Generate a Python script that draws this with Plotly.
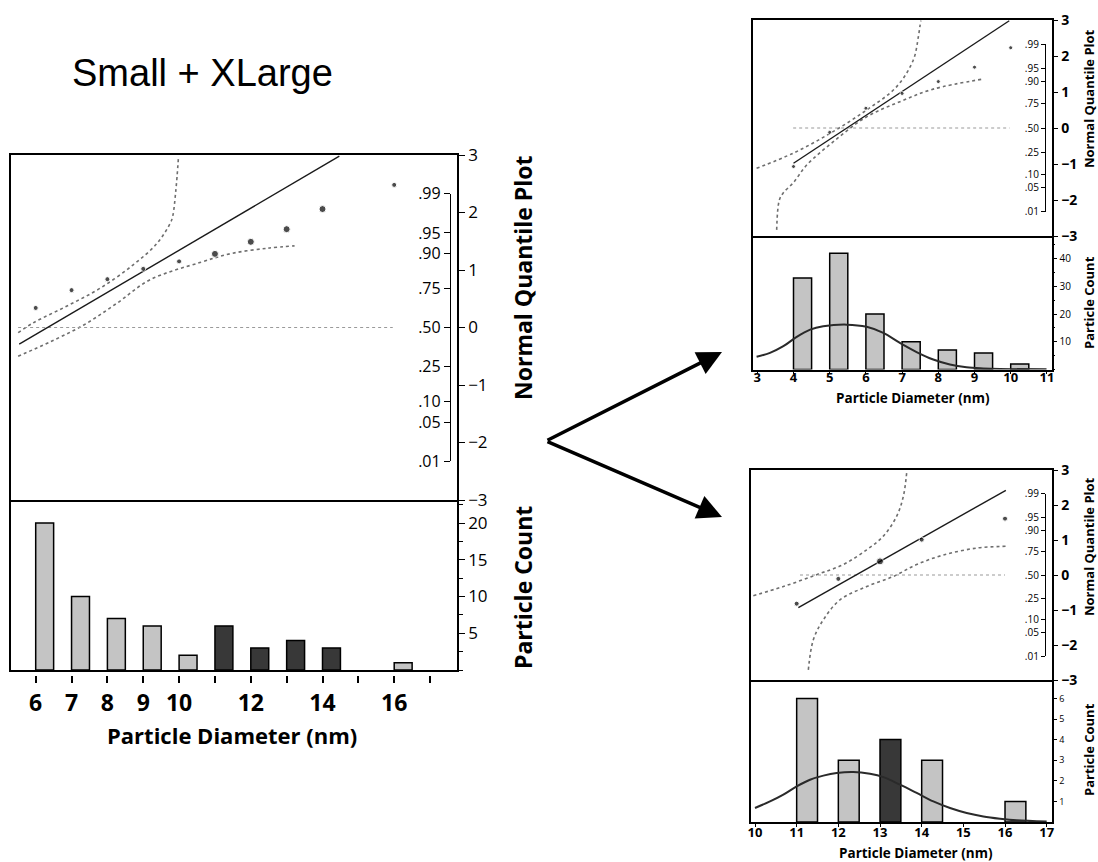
import plotly.graph_objects as go

W, H = 1098, 862


def fx(px):
    return px / W


def fy(py):
    return 1 - py / H


# ------------------------------------------------------------------ data
# Left panel: Small + XLarge
LEFT_BINS = [6, 7, 8, 9, 10, 11, 12, 13, 14, 16]
LEFT_COUNTS = [20, 10, 7, 6, 2, 6, 3, 4, 3, 1]
LEFT_SHADE = ["light", "light", "light", "light", "light", "dark", "dark", "dark", "dark", "light"]
LEFT_Q_X = [6, 7, 8, 9, 10, 11, 12, 13, 14, 16]
LEFT_Q_Z = [0.34, 0.65, 0.84, 1.02, 1.15, 1.28, 1.49, 1.71, 2.06, 2.48]
LEFT_FIT_X = [5.54, 14.47]
LEFT_FIT_Z = [-0.29, 2.98]
LEFT_UP_X = [5.51, 5.93, 6.86, 7.79, 8.72, 9.38, 9.75, 9.82, 9.91, 9.98]
LEFT_UP_Z = [-0.09, 0.08, 0.37, 0.68, 1.09, 1.46, 1.81, 1.93, 2.39, 2.94]
LEFT_LO_X = [5.51, 6.40, 7.33, 8.26, 9.19, 10.58, 11.48, 12.48, 13.22]
LEFT_LO_Z = [-0.50, -0.25, 0.04, 0.42, 0.83, 1.13, 1.29, 1.38, 1.42]
LEFT_MID_X = [5.51, 15.96]
LEFT_XTICKS = [6, 7, 8, 9, 10, 11, 12, 13, 14, 15, 16, 17]
LEFT_XLABELS = ["6", "7", "8", "9", "10", "", "12", "", "14", "", "16", ""]
LEFT_CTICKS = [5, 10, 15, 20]

# Top right panel: Small
R1_BINS = [4, 5, 6, 7, 8, 9, 10]
R1_COUNTS = [33, 42, 20, 10, 7, 6, 2]
R1_SHADE = ["light"] * 7
R1_Q_X = [4, 5, 6, 7, 8, 9, 10]
R1_Q_Z = [-1.07, -0.12, 0.55, 0.96, 1.29, 1.69, 2.23]
R1_FIT_X = [4.0, 9.96]
R1_FIT_Z = [-0.98, 2.98]
R1_UP_X = [2.98, 3.99, 5.01, 6.02, 6.85, 7.31, 7.45, 7.49, 7.52]
R1_UP_Z = [-1.12, -0.70, -0.15, 0.50, 1.15, 1.89, 2.54, 2.81, 2.98]
R1_LO_X = [3.535, 3.609, 3.719, 3.995, 4.364, 5.10, 6.02, 6.94, 7.86, 9.24]
R1_LO_Z = [-2.83, -2.0, -1.80, -1.52, -1.03, -0.38, 0.31, 0.73, 1.08, 1.36]
R1_MID_X = [3.99, 9.97]
R1_CURVE_X = [2.98, 3.35, 3.72, 4.09, 4.46, 4.82, 5.47, 6.02, 6.48, 6.94, 7.40, 7.86, 8.32, 8.78, 9.24, 9.70, 10.99]
R1_CURVE_Y = [4.6, 6.0, 8.4, 11.8, 14.4, 15.6, 16.2, 15.4, 13.2, 9.6, 6.3, 3.6, 1.8, 0.8, 0.4, 0.2, 0.1]
R1_XTICKS = [3, 4, 5, 6, 7, 8, 9, 10, 11]
R1_CTICKS = [10, 20, 30, 40]

# Bottom right panel: XLarge
R2_BINS = [11, 12, 13, 14, 16]
R2_COUNTS = [6, 3, 4, 3, 1]
R2_SHADE = ["light", "light", "dark", "light", "light"]
R2_Q_X = [11, 12, 13, 14, 16]
R2_Q_Z = [-0.82, -0.11, 0.39, 1.01, 1.61]
R2_FIT_X = [11.04, 16.02]
R2_FIT_Z = [-0.93, 2.42]
R2_UP_X = [9.96, 10.68, 11.48, 12.12, 12.68, 13.08, 13.40, 13.56, 13.64]
R2_UP_Z = [-0.59, -0.33, 0.01, 0.30, 0.72, 1.11, 1.68, 2.25, 2.92]
R2_LO_X = [11.28, 11.40, 11.64, 12.04, 12.68, 13.32, 13.88, 14.52, 15.32, 16.04]
R2_LO_Z = [-2.71, -1.85, -1.28, -0.71, -0.33, -0.04, 0.30, 0.57, 0.77, 0.82]
R2_MID_X = [11.08, 16.0]
R2_CURVE_X = [10.0, 10.36, 10.68, 11.0, 11.32, 11.64, 11.96, 12.36, 12.76, 13.08, 13.48, 13.88, 14.28, 14.68, 15.08, 15.48, 15.88, 16.28, 17.0]
R2_CURVE_Y = [0.68, 1.0, 1.33, 1.73, 2.05, 2.25, 2.38, 2.43, 2.34, 2.18, 1.81, 1.41, 1.0, 0.68, 0.44, 0.27, 0.16, 0.08, 0.02]
R2_XTICKS = [10, 11, 12, 13, 14, 15, 16, 17]
R2_CTICKS = [1, 2, 3, 4, 5, 6]

# shared axis labels
Z_TICKS = [-3, -2, -1, 0, 1, 2, 3]
Z_LABELS = ["\u22123", "\u22122", "\u22121", "0", "1", "2", "3"]
P_TICKS = [-2.326, -1.645, -1.282, -0.674, 0, 0.674, 1.282, 1.645, 2.326]
P_LABELS = [".01", ".05", ".10", ".25", ".50", ".75", ".90", ".95", ".99"]

TITLE = "Small + XLarge"
XTITLE = "Particle Diameter (nm)"
QTITLE = "Normal Quantile Plot"
CTITLE = "Particle Count"

# ------------------------------------------------------------------ style
FONT = "Open Sans"
LIGHT = "#c4c4c4"
DARK = "#383838"
BAND = "#6e6e6e"

fig = go.Figure()
layout = dict(
    width=W, height=H, margin=dict(l=0, r=0, t=0, b=0, pad=0, autoexpand=False),
    paper_bgcolor="white", plot_bgcolor="rgba(0,0,0,0)",
    showlegend=False, annotations=[],
)

base_axis = dict(showgrid=False, zeroline=False, linecolor="black", linewidth=1.5,
                 tickcolor="black", tickwidth=1.3, fixedrange=True, automargin=False)


def ax_name(kind, n):
    return kind + ("" if n == 1 else str(n))


def panel(ids, g, d, big):
    """ids: dict of axis numbers; g: pixel geometry; d: data."""
    xq, yz, yp, xh, yc, xt = ids["xq"], ids["yz"], ids["yp"], ids["xh"], ids["yc"], ids["xt"]
    xr = [d["x0"] + (g["left"] - g["x0px"]) / g["xscale"],
          d["x0"] + (g["right"] - g["x0px"]) / g["xscale"]]
    zpx = (g["sep"] - g["ztop"]) / 6.0
    zmid = (g["sep"] + g["ztop"]) / 2.0
    xdom = [fx(g["left"]), fx(g["right"])]
    cmax = (g["bottom"] - g["sep"]) / g["cscale"]

    zfont = dict(family=FONT, size=g["zfs"], color="black")
    if not big:
        zfont["weight"] = "bold"

    # quantile x axis (box top & separator)
    layout[ax_name("xaxis", xq)] = dict(
        base_axis, domain=xdom, range=xr, anchor=ax_name("y", yz),
        showline=True, mirror=True, ticks="", showticklabels=False)
    # z axis (right)
    layout[ax_name("yaxis", yz)] = dict(
        base_axis, domain=[fy(g["sep"]), fy(g["ztop"])], range=[-3, 3],
        anchor=ax_name("x", xq), side="right", showline=True, mirror=True,
        ticks="outside", ticklen=g["ztl"], tickvals=Z_TICKS, ticktext=Z_LABELS,
        tickfont=zfont)
    # probability bracket axis
    pmax = 2.326
    layout[ax_name("yaxis", yp)] = dict(
        base_axis, domain=[fy(zmid + pmax * zpx), fy(zmid - pmax * zpx)],
        range=[-pmax, pmax], anchor="free", position=fx(g["bracket"]),
        side="left", showline=True, linewidth=1.3, ticks="outside", ticklen=g["ptl"],
        tickvals=P_TICKS, ticktext=P_LABELS,
        tickfont=dict(family=FONT, size=g["pfs"], color="black"))
    fig.add_trace(go.Scatter(x=[None], y=[None], xaxis=ax_name("x", xq),
                             yaxis=ax_name("y", yp), hoverinfo="skip"))

    # histogram x axis (line + tick marks for small panels)
    hx = dict(base_axis, domain=xdom, range=xr, anchor=ax_name("y", yc),
              showline=True, mirror=False, showticklabels=False)
    if big:
        hx.update(ticks="")
    else:
        hx.update(ticks="outside", ticklen=3, tickvals=d["xticks"])
    layout[ax_name("xaxis", xh)] = hx
    # count axis
    yc_ax = dict(base_axis, domain=[fy(g["bottom"]), fy(g["sep"])], range=[0, cmax],
                 anchor=ax_name("x", xh), side="right", showline=True, mirror=True,
                 ticks="outside", ticklen=g["ctl"], tickvals=d["cticks"],
                 tickfont=dict(family=FONT, size=g["cfs"], color="black"))
    if d.get("cminor"):
        yc_ax["minor"] = dict(ticks="outside", ticklen=max(2, g["ctl"] - 2),
                              dtick=d["cminor"], tick0=0, tickcolor="black", tickwidth=1)
    layout[ax_name("yaxis", yc)] = yc_ax

    # tick-label axis (free, overlaying the histogram x axis)
    lab = dict(base_axis, range=xr, overlaying=ax_name("x", xh), anchor="free",
               position=fy(g["lblpos"]), side="bottom", showline=False,
               tickvals=d["xticks"], ticktext=d.get("xlabels", [str(v) for v in d["xticks"]]),
               tickfont=dict(family=FONT, size=g["xfs"], color="black", weight="bold"))
    if big:
        lab.update(ticks="outside", ticklen=7, tickwidth=2)
    else:
        lab.update(ticks="")
    layout[ax_name("xaxis", xt)] = lab
    fig.add_trace(go.Scatter(x=[None], y=[None], xaxis=ax_name("x", xt),
                             yaxis=ax_name("y", yc), hoverinfo="skip"))

    xq_ref, yz_ref = ax_name("x", xq), ax_name("y", yz)
    xh_ref, yc_ref = ax_name("x", xh), ax_name("y", yc)

    # bands and reference line
    for xs, zs in ((d["up_x"], d["up_z"]), (d["lo_x"], d["lo_z"])):
        fig.add_trace(go.Scatter(x=xs, y=zs, mode="lines", line_shape="spline",
                                 line=dict(color=BAND, width=1.6, dash="dot"),
                                 xaxis=xq_ref, yaxis=yz_ref, cliponaxis=True,
                                 hoverinfo="skip"))
    fig.add_trace(go.Scatter(x=d["mid_x"], y=[0, 0], mode="lines",
                             line=dict(color="#9a9a9a", width=1.2, dash="dot"),
                             xaxis=xq_ref, yaxis=yz_ref, hoverinfo="skip"))
    fig.add_trace(go.Scatter(x=d["fit_x"], y=d["fit_z"], mode="lines",
                             line=dict(color="#1a1a1a", width=1.4),
                             xaxis=xq_ref, yaxis=yz_ref, hoverinfo="skip"))
    sizes = [g["dot_big"] if s == "dark" else g["dot"] for s in d["shade"]]
    qsizes = [sizes[d["bins"].index(v)] if v in d["bins"] else g["dot"] for v in d["q_x"]]
    fig.add_trace(go.Scatter(x=d["q_x"], y=d["q_z"], mode="markers",
                             marker=dict(color="black", size=qsizes),
                             xaxis=xq_ref, yaxis=yz_ref, hoverinfo="skip"))

    # histogram bars
    fig.add_trace(go.Bar(x=d["bins"], y=d["counts"], width=0.5, offset=0,
                         marker=dict(color=[DARK if s == "dark" else LIGHT for s in d["shade"]],
                                     line=dict(color="black", width=1.5)),
                         xaxis=xh_ref, yaxis=yc_ref, hoverinfo="skip"))
    if d.get("curve_x"):
        fig.add_trace(go.Scatter(x=d["curve_x"], y=d["curve_y"], mode="lines",
                                 line_shape="spline",
                                 line=dict(color="#2a2a2a", width=2),
                                 xaxis=xh_ref, yaxis=yc_ref, hoverinfo="skip"))

    # titles
    ann = layout["annotations"]
    ann.append(dict(text=XTITLE, x=fx(g["xt_x"]), y=fy(g["xt_y"]), xref="paper", yref="paper",
                    showarrow=False, xanchor="center", yanchor="middle",
                    font=dict(family=FONT, size=g["tfs"], color="black", weight="bold")))
    ann.append(dict(text=QTITLE, x=fx(g["yt_x"]), y=fy(g["qt_y"]), xref="paper", yref="paper",
                    showarrow=False, textangle=-90, xanchor="center", yanchor="middle",
                    font=dict(family=FONT, size=g["yfs"], color="black", weight="bold")))
    ann.append(dict(text=CTITLE, x=fx(g["yt_x"]), y=fy(g["ct_y"]), xref="paper", yref="paper",
                    showarrow=False, textangle=-90, xanchor="center", yanchor="middle",
                    font=dict(family=FONT, size=g["yfs"], color="black", weight="bold")))


# left panel
panel(dict(xq=1, yz=1, yp=2, xh=2, yc=3, xt=3),
      dict(left=11, right=457, ztop=155, sep=500, bottom=670, x0px=35.7, xscale=35.85,
           cscale=7.35, bracket=450, lblpos=675, zfs=17, ztl=6, pfs=16, ptl=6,
           cfs=17, ctl=6, xfs=23, tfs=22, yfs=23, dot=5, dot_big=7,
           xt_x=232, xt_y=735, yt_x=523, qt_y=278, ct_y=588),
      dict(x0=6, bins=LEFT_BINS, counts=LEFT_COUNTS, shade=LEFT_SHADE,
           q_x=LEFT_Q_X, q_z=LEFT_Q_Z, fit_x=LEFT_FIT_X, fit_z=LEFT_FIT_Z,
           up_x=LEFT_UP_X, up_z=LEFT_UP_Z, lo_x=LEFT_LO_X, lo_z=LEFT_LO_Z,
           mid_x=LEFT_MID_X, xticks=LEFT_XTICKS, xlabels=LEFT_XLABELS,
           cticks=LEFT_CTICKS, cminor=2.5),
      big=True)

# top right panel
panel(dict(xq=4, yz=4, yp=5, xh=5, yc=6, xt=6),
      dict(left=752.7, right=1051.7, ztop=20, sep=236, bottom=369.5, x0px=757.3, xscale=36.2,
           cscale=2.77, bracket=1045, lblpos=367.5, zfs=14, ztl=5, pfs=10, ptl=4,
           cfs=10, ctl=4, xfs=13, tfs=13.5, yfs=13, dot=4, dot_big=6,
           xt_x=913, xt_y=398, yt_x=1089, qt_y=99, ct_y=303),
      dict(x0=3, bins=R1_BINS, counts=R1_COUNTS, shade=R1_SHADE,
           q_x=R1_Q_X, q_z=R1_Q_Z, fit_x=R1_FIT_X, fit_z=R1_FIT_Z,
           up_x=R1_UP_X, up_z=R1_UP_Z, lo_x=R1_LO_X, lo_z=R1_LO_Z,
           mid_x=R1_MID_X, xticks=R1_XTICKS, cticks=R1_CTICKS, cminor=5,
           curve_x=R1_CURVE_X, curve_y=R1_CURVE_Y),
      big=False)

# bottom right panel
panel(dict(xq=7, yz=7, yp=8, xh=8, yc=9, xt=9),
      dict(left=751, right=1051.7, ztop=470, sep=680, bottom=822, x0px=755, xscale=41.67,
           cscale=20.6, bracket=1045, lblpos=822.5, zfs=14, ztl=5, pfs=10, ptl=4,
           cfs=9, ctl=4, xfs=13, tfs=13.5, yfs=13, dot=5, dot_big=7,
           xt_x=916, xt_y=853, yt_x=1089, qt_y=547, ct_y=750),
      dict(x0=10, bins=R2_BINS, counts=R2_COUNTS, shade=R2_SHADE,
           q_x=R2_Q_X, q_z=R2_Q_Z, fit_x=R2_FIT_X, fit_z=R2_FIT_Z,
           up_x=R2_UP_X, up_z=R2_UP_Z, lo_x=R2_LO_X, lo_z=R2_LO_Z,
           mid_x=R2_MID_X, xticks=R2_XTICKS, cticks=R2_CTICKS,
           curve_x=R2_CURVE_X, curve_y=R2_CURVE_Y),
      big=False)

# big title
layout["annotations"].append(dict(
    text=TITLE, x=fx(202), y=fy(73), xref="paper", yref="paper", showarrow=False,
    xanchor="center", yanchor="middle",
    font=dict(family="Liberation Sans", size=38, color="black")))

# arrows
for tip_y in (352, 517):
    layout["annotations"].append(dict(
        text="", x=fx(722), y=fy(tip_y), xref="paper", yref="paper",
        ax=546 - 722, ay=441 - tip_y, axref="pixel", ayref="pixel",
        showarrow=True, arrowhead=2, arrowsize=1.4, arrowwidth=3.5,
        arrowcolor="black", standoff=0, startstandoff=0))

fig.update_layout(**layout)
fig.write_html(
    "out.html",
    config={"displayModeBar": False},
    post_script="document.body.style.margin='0';document.body.style.padding='0';"
                "document.body.style.overflow='hidden';",
)
